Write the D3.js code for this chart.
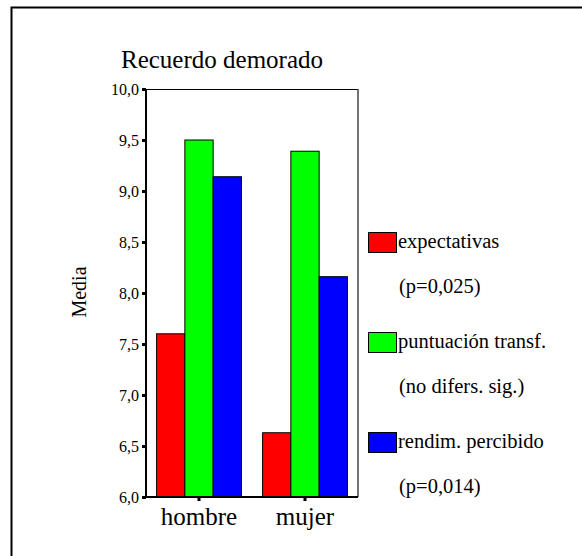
<!DOCTYPE html>
<html><head><meta charset="utf-8">
<script src="https://cdn.jsdelivr.net/npm/d3@7"></script>
<style>body{margin:0;background:#fff}svg{display:block}svg text{font-family:"Liberation Serif","Times New Roman",Times,"DejaVu Serif",serif !important;fill:#000}</style>
</head><body>
<script>
const categories = ["hombre", "mujer"];
const seriesNames = ["expectativas", "puntuación transf.", "rendim. percibido"];
const seriesNotes = ["(p=0,025)", "(no difers. sig.)", "(p=0,014)"];
const seriesColors = ["#ff0000", "#00ff00", "#0000ff"];
const expectativas = [7.60, 6.63];
const puntuacion = [9.50, 9.39];
const rendimiento = [9.14, 8.16];
const yTicks = [6.0, 6.5, 7.0, 7.5, 8.0, 8.5, 9.0, 9.5, 10.0];
const title = "Recuerdo demorado";
const yLabel = "Media";

(function () {
const FONT = '"Liberation Serif","Times New Roman",Times,"DejaVu Serif",serif';
const values = [expectativas, puntuacion, rendimiento];
const W = 582, H = 556;
const svg = d3.select("body").append("svg").attr("width", W).attr("height", H);

// outer frame
svg.append("path").attr("d", "M11.5,560 V7.5 H590").attr("fill", "none").attr("stroke", "#000").attr("stroke-width", 2);

const pL = 146, pR = 358, pT = 89, pB = 497;
const x0 = d3.scaleBand().domain(categories).range([pL, pR]).paddingInner(0.2).paddingOuter(0.1);
const x1 = d3.scaleBand().domain(d3.range(seriesNames.length)).range([0, x0.bandwidth()]);
const y = d3.scaleLinear().domain([6, 10]).range([pB, pT]);

// plot box top & right
svg.append("line").attr("x1", pL).attr("x2", pR).attr("y1", pT + 0.5).attr("y2", pT + 0.5).attr("stroke", "#000").attr("stroke-width", 1);
svg.append("line").attr("x1", pR).attr("x2", pR).attr("y1", pT).attr("y2", pB).attr("stroke", "#444").attr("stroke-width", 1.5);

// bars
categories.forEach((c, ci) => {
  values.forEach((vals, si) => {
    svg.append("rect")
      .attr("x", x0(c) + x1(si))
      .attr("y", y(vals[ci]))
      .attr("width", x1.bandwidth())
      .attr("height", y(6) - y(vals[ci]))
      .attr("fill", seriesColors[si])
      .attr("stroke", "#000").attr("stroke-width", 1);
  });
});

// y axis
const yAxis = d3.axisLeft(y).tickValues(yTicks).tickSize(4).tickPadding(3)
  .tickFormat(d => d3.format(".1f")(d).replace(".", ","));
const gy = svg.append("g").attr("transform", `translate(${pL},0)`).call(yAxis).attr("font-family", FONT);
gy.select(".domain").attr("stroke", "#000").attr("stroke-width", 2).attr("d", `M0,${pT}V${pB}`);
gy.selectAll(".tick line").attr("stroke", "#000").attr("stroke-width", 3);
gy.selectAll(".tick text").style("font-size", "16px").attr("dy", "0.35em");

// x axis
const xAxis = d3.axisBottom(x0).tickSize(4).tickPadding(6);
const gx = svg.append("g").attr("transform", `translate(0,${pB})`).call(xAxis).attr("font-family", FONT);
gx.select(".domain").attr("stroke", "#000").attr("stroke-width", 2).attr("d", `M${pL - 3},0H${pR}`);
gx.selectAll(".tick line").attr("stroke", "#000").attr("stroke-width", 3);
gx.selectAll(".tick text").style("font-size", "25px").attr("dy", "0.71em");

// title
svg.append("text").attr("x", 121).attr("y", 68).style("font-size", "25px").text(title);

// y label
svg.append("text").attr("transform", "translate(86,292) rotate(-90)").attr("text-anchor", "middle")
  .style("font-size", "20px").text(yLabel);

// legend
const lg = svg.append("g");
seriesNames.forEach((n, i) => {
  const yy = 232 + i * 100;
  lg.append("rect").attr("x", 368.5).attr("y", yy + 0.5).attr("width", 28).attr("height", 20)
    .attr("fill", seriesColors[i]).attr("stroke", "#000").attr("stroke-width", 1);
  lg.append("text").attr("x", 398).attr("y", yy + 16).style("font-size", "20.5px").text(n);
  lg.append("text").attr("x", 399).attr("y", yy + 61).style("font-size", "20.5px").text(seriesNotes[i]);
});
svg.selectAll("text").style("font-family", FONT);
})();
</script>
</body></html>
